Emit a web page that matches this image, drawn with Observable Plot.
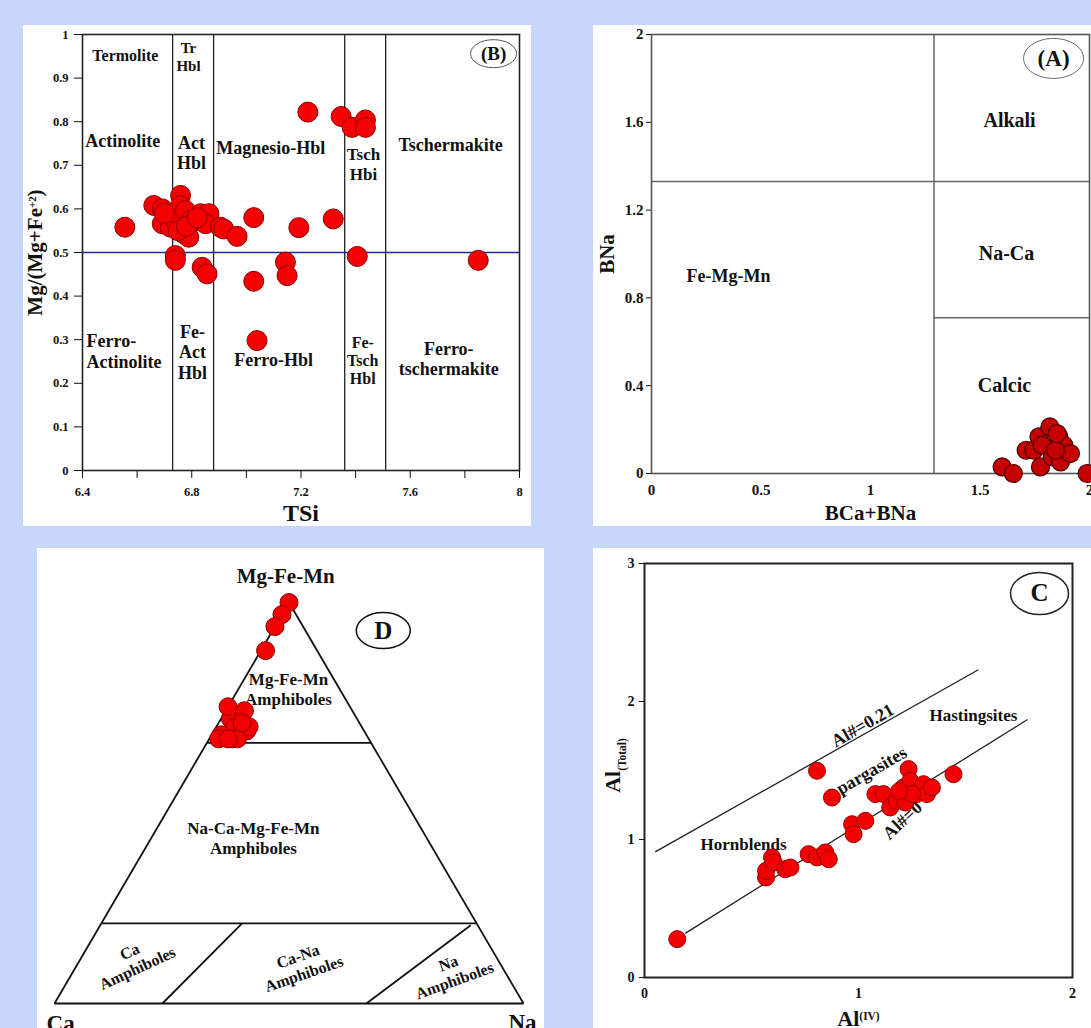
<!DOCTYPE html>
<html>
<head>
<meta charset="utf-8">
<script src="https://cdn.jsdelivr.net/npm/d3@7"></script>
<script src="https://cdn.jsdelivr.net/npm/@observablehq/plot@0.6"></script>
<style>
  html, body { margin: 0; padding: 0; background: #c6d7fb; overflow: hidden; }
  #sheet { position: relative; width: 1091px; height: 1028px; background: #c6d7fb; }
  .panel { position: absolute; background: #ffffff; overflow: hidden; }
  .panel svg { display: block; }
</style>
</head>
<body>
<div id="sheet"></div>
<script>
// ---------- Panel B: TSi vs Mg/(Mg+Fe2+) ----------
const bTSi = [6.555, 6.661, 6.692, 6.692, 6.722, 6.759, 6.759, 6.740, 6.777, 6.795, 6.771, 6.789,
  6.814, 6.832, 6.863, 6.851, 6.905, 6.917, 6.966, 7.027, 7.192, 7.318, 6.740, 6.740, 6.838, 6.856,
  7.027, 7.143, 7.149, 7.039, 7.406, 7.849, 7.225, 7.347, 7.387, 7.436, 7.436, 6.700, 6.750, 6.780, 6.820];
const bMgNumber = [0.558, 0.608, 0.600, 0.566, 0.558, 0.631, 0.608, 0.573, 0.596, 0.573, 0.543, 0.535,
  0.573, 0.589, 0.589, 0.566, 0.558, 0.554, 0.537, 0.580, 0.557, 0.577, 0.493, 0.482, 0.466, 0.451,
  0.434, 0.478, 0.447, 0.298, 0.491, 0.482, 0.822, 0.812, 0.787, 0.804, 0.787, 0.590, 0.550, 0.560, 0.580];
const bFieldBoundsTSi = [6.73, 6.88, 7.36, 7.51];
const bMgDivide = [0.5];
const bTicksX = [6.4, 6.6, 6.8, 7.0, 7.2, 7.4, 7.6, 7.8, 8];
const bTickLabelsX = [6.4, 6.8, 7.2, 7.6, 8];
const bTicksY = [0, 0.1, 0.2, 0.3, 0.4, 0.5, 0.6, 0.7, 0.8, 0.9, 1];

// ---------- Panel A: BCa+BNa vs BNa ----------
const aBCaBNa = [1.601, 1.652, 1.711, 1.746, 1.769, 1.819, 1.784, 1.776, 1.830, 1.860, 1.883, 1.868, 1.913, 1.845, 1.852, 1.989];
const aBNa = [0.030, 0.000, 0.106, 0.106, 0.167, 0.212, 0.129, 0.030, 0.076, 0.167, 0.129, 0.053, 0.091, 0.106, 0.182, 0.000];
const aGroupSplitX = [1.29];
const aAlkaliSplitY = [1.33];
const aCalcicSplitY = [0.71];
const aTicksX = [0, 0.5, 1, 1.5, 2];
const aTicksY = [0, 0.4, 0.8, 1.2, 1.6, 2];

// ---------- Panel C: Al(IV) vs Al(Total) ----------
const cAlIV = [0.153, 0.568, 0.568, 0.596, 0.604, 0.658, 0.682, 0.767, 0.806, 0.845, 0.861, 0.806, 0.876,
  0.970, 0.977, 1.032, 1.079, 1.117, 1.148, 1.179, 1.210, 1.234, 1.242, 1.219, 1.273, 1.304, 1.320, 1.343,
  1.444, 1.250, 1.190];
const cAlTotal = [0.278, 0.725, 0.773, 0.870, 0.833, 0.785, 0.797, 0.894, 0.870, 0.906, 0.857, 1.498, 1.304,
  1.111, 1.039, 1.135, 1.329, 1.329, 1.232, 1.280, 1.377, 1.510, 1.425, 1.268, 1.329, 1.401, 1.329, 1.377,
  1.473, 1.330, 1.350];
const cRefLineNames = ["Al#=0", "Al#=0.21"];
const cRefLineX1 = [0.19, 0.05];
const cRefLineY1 = [0.32, 0.91];
const cRefLineX2 = [1.79, 1.56];
const cRefLineY2 = [1.87, 2.23];
const cTicksX = [0, 1, 2];
const cTicksY = [0, 1, 2, 3];

// ---------- Panel D: Ca – Na – (Mg-Fe-Mn) ternary ----------
const dCa = [0.00, 0.03, 0.06, 0.11, 0.27, 0.23, 0.27, 0.31, 0.29, 0.25, 0.28, 0.24, 0.26, 0.32, 0.25, 0.30];
const dNa = [0.00, 0.00, 0.00, 0.01, 0.02, 0.04, 0.04, 0.02, 0.05, 0.07, 0.06, 0.07, 0.00, 0.02, 0.05, 0.04];
const dMgFeMn = [1.00, 0.97, 0.94, 0.88, 0.71, 0.73, 0.69, 0.67, 0.66, 0.68, 0.66, 0.69, 0.74, 0.66, 0.70, 0.66];
// field boundaries as [Ca, Na, MgFeMn] end members
const dBoundaryFrom = [[1, 0, 0], [0, 1, 0], [0, 0, 1], [0.35, 0, 0.65], [0.8, 0, 0.2], [0.5, 0.3, 0.2], [0.015, 0.79, 0.195]];
const dBoundaryTo = [[0, 1, 0], [0, 0, 1], [1, 0, 0], [0, 0.35, 0.65], [0, 0.8, 0.2], [0.77, 0.23, 0], [0.335, 0.665, 0]];

// ---------- helpers ----------
const serif = "'Liberation Serif','Times New Roman',Times,serif";
const sheet = document.getElementById("sheet");

function mount(svg, left, top, width, height) {
  const div = document.createElement("div");
  div.className = "panel";
  Object.assign(div.style, {left: left + "px", top: top + "px", width: width + "px", height: height + "px"});
  div.appendChild(svg);
  sheet.appendChild(div);
  scripts(svg);
}

// turn "^{..}" and "_{..}" inside text into super/subscript tspans
function scripts(svg) {
  d3.select(svg).selectAll("text").each(function () {
    if (this.querySelector("tspan")) return;
    const s = this.textContent;
    if (!/[\^_]\{/.test(s)) return;
    const parts = s.split(/([\^_]\{[^}]*\})/).filter((p) => p);
    this.textContent = "";
    for (const p of parts) {
      const m = p.match(/^([\^_])\{([^}]*)\}$/);
      const t = d3.select(this).append("tspan");
      if (m) t.text(m[2]).attr("baseline-shift", m[1] === "^" ? "super" : "sub").attr("font-size", "52%");
      else t.text(p);
    }
  });
}

// ellipse outline used for the panel tags
function ellipse(rx, ry) {
  const k = 0.5523;
  return {
    draw(ctx) {
      ctx.moveTo(rx, 0);
      ctx.bezierCurveTo(rx, k * ry, k * rx, ry, 0, ry);
      ctx.bezierCurveTo(-k * rx, ry, -rx, k * ry, -rx, 0);
      ctx.bezierCurveTo(-rx, -k * ry, -k * rx, -ry, 0, -ry);
      ctx.bezierCurveTo(k * rx, -ry, rx, -k * ry, rx, 0);
      ctx.closePath();
    }
  };
}

const label = (txt, x, y, opts = {}) =>
  Plot.text([txt], {x: () => x, y: () => y, fontSize: 18, fontWeight: "bold", fill: "#111", ...opts});

// axis titles placed relative to the frame, centred on their anchor point
const title = (txt, frameAnchor, opts = {}) =>
  Plot.text([txt], {frameAnchor, textAnchor: "middle", lineAnchor: "middle", fontWeight: "bold", fill: "#111", ...opts});

const tag = (txt, x, y, rx, ry, size, stroke, sw) => [
  Plot.dot([txt], {x: () => x, y: () => y, symbol: ellipse(rx, ry), r: 1, fill: "white", stroke, strokeWidth: sw}),
  label(txt, x, y, {fontSize: size})
];

const baseStyle = {fontFamily: serif, fontWeight: "bold", background: "transparent", overflow: "visible", color: "#111"};

// ---------- Panel B ----------
const bPoints = bTSi.map((x, i) => ({x, y: bMgNumber[i]}));
mount(Plot.plot({
  width: 508, height: 501,
  marginLeft: 59, marginRight: 12, marginTop: 9, marginBottom: 56,
  style: baseStyle,
  x: {domain: [6.4, 8]},
  y: {domain: [0, 1]},
  marks: [
    Plot.ruleX(bFieldBoundsTSi, {stroke: "#222", strokeWidth: 1.3}),
    Plot.ruleY(bMgDivide, {stroke: "#1d2c92", strokeWidth: 1.5}),
    Plot.frame({stroke: "#222", strokeWidth: 1.6}),
    Plot.axisY({ticks: bTicksY, tickSize: 8, tickPadding: 6, fontSize: 12.5, label: null, tickFormat: (d) => String(d)}),
    Plot.axisX({ticks: bTicksX, tickSize: 8, tickPadding: 9, fontSize: 12.5, label: null,
      tickFormat: (d) => (bTickLabelsX.includes(d) ? String(d) : "")}),
    title("TSi", "bottom", {dy: 43, fontSize: 24}),
    title("Mg/(Mg+Fe^{+2})", "left", {dx: -47, dy: 0, rotate: -90, fontSize: 21}),
    label("Termolite", 6.557, 0.952, {fontSize: 16}),
    label("Tr\nHbl", 6.788, 0.950, {fontSize: 15, lineHeight: 1.2}),
    label("Actinolite", 6.547, 0.755),
    label("Act\nHbl", 6.799, 0.729, {lineHeight: 1.12}),
    label("Magnesio-Hbl", 7.089, 0.739),
    label("Tsch\nHbi", 7.429, 0.704, {fontSize: 17, lineHeight: 1.18}),
    label("Tschermakite", 7.748, 0.745),
    label("Ferro-\nActinolite", 6.415, 0.274, {textAnchor: "start", lineHeight: 1.17}),
    label("Fe-\nAct\nHbl", 6.803, 0.273, {lineHeight: 1.14}),
    label("Ferro-Hbl", 7.100, 0.252),
    label("Fe-\nTsch\nHbl", 7.426, 0.252, {fontSize: 16, lineHeight: 1.13}),
    label("Ferro-\ntschermakite", 7.741, 0.257, {lineHeight: 1.12}),
    Plot.dot(bPoints, {x: "x", y: "y", r: 10, fill: "#f40000", stroke: "#8e0000", strokeWidth: 1}),
    ...tag("(B)", 7.905, 0.956, 23, 14, 19, "#555", 1)
  ]
}), 23, 25, 508, 501);

// ---------- Panel A ----------
const aPoints = aBCaBNa.map((x, i) => ({x, y: aBNa[i]}));
mount(Plot.plot({
  width: 498, height: 501,
  marginLeft: 58, marginRight: 2, marginTop: 9, marginBottom: 53,
  style: baseStyle,
  x: {domain: [0, 2]},
  y: {domain: [0, 2]},
  marks: [
    Plot.ruleX(aGroupSplitX, {stroke: "#666", strokeWidth: 1.5}),
    Plot.ruleY(aAlkaliSplitY, {stroke: "#666", strokeWidth: 1.5}),
    Plot.ruleY(aCalcicSplitY, {x1: aGroupSplitX[0], x2: 2, stroke: "#666", strokeWidth: 1.5}),
    Plot.frame({stroke: "#555", strokeWidth: 1.6}),
    Plot.axisY({ticks: aTicksY, tickSize: 5, tickPadding: 3, fontSize: 15, label: null, tickFormat: (d) => String(d)}),
    Plot.axisX({ticks: aTicksX, tickSize: 0, tickPadding: 11, fontSize: 15, label: null, tickFormat: (d) => String(d)}),
    title("BCa+BNa", "bottom", {dy: 40, fontSize: 21}),
    title("BNa", "left", {dx: -44, rotate: -90, fontSize: 21}),
    label("Alkali", 1.635, 1.608, {fontSize: 20}),
    label("Na-Ca", 1.621, 1.002, {fontSize: 20}),
    label("Calcic", 1.612, 0.401, {fontSize: 20}),
    label("Fe-Mg-Mn", 0.352, 0.897),
    Plot.dot(aPoints, {x: "x", y: "y", r: 9, fill: "#c40000", stroke: "#4a0000", strokeWidth: 1.2}),
    ...tag("(A)", 1.836, 1.891, 30, 20, 23, "#666", 1)
  ]
}), 593, 25, 498, 501);

// ---------- Panel D (ternary) ----------
const ternX = (ca, na, m) => (na + m / 2) / (ca + na + m);
const ternY = (ca, na, m) => m / (ca + na + m);
const dPoints = dCa.map((ca, i) => ({x: ternX(ca, dNa[i], dMgFeMn[i]), y: ternY(ca, dNa[i], dMgFeMn[i])}));
const dSegments = dBoundaryFrom.map((a, i) => {
  const b = dBoundaryTo[i];
  return {x1: ternX(...a), y1: ternY(...a), x2: ternX(...b), y2: ternY(...b)};
});
mount(Plot.plot({
  width: 507, height: 480,
  marginLeft: 17, marginRight: 21, marginTop: 54, marginBottom: 25,
  style: baseStyle,
  x: {domain: [0, 1], axis: null},
  y: {domain: [0, 1], axis: null},
  marks: [
    Plot.link(dSegments, {x1: "x1", y1: "y1", x2: "x2", y2: "y2", stroke: "#111", strokeWidth: 1.8}),
    label("Mg-Fe-Mn", 0.493, 1.065, {fontSize: 21}),
    label("Mg-Fe-Mn\nAmphiboles", 0.499, 0.786, {fontSize: 17, lineHeight: 1.18}),
    label("Na-Ca-Mg-Fe-Mn\nAmphiboles", 0.424, 0.414, {fontSize: 17, lineHeight: 1.18}),
    label("Ca\nAmphiboles", 0.168, 0.110, {fontSize: 16, rotate: -25, lineHeight: 1.15}),
    label("Ca-Na\nAmphiboles", 0.525, 0.097, {fontSize: 16, rotate: -19, lineHeight: 1.15}),
    label("Na\nAmphiboles", 0.846, 0.080, {fontSize: 16, rotate: -20, lineHeight: 1.15}),
    label("Ca", 0.013, -0.05, {fontSize: 23}),
    label("Na", 0.998, -0.047, {fontSize: 23}),
    Plot.dot(dPoints, {x: "x", y: "y", r: 9, fill: "#f20000", stroke: "#8e0000", strokeWidth: 1}),
    ...tag("D", 0.701, 0.930, 27, 18, 25, "#111", 1.5)
  ]
}), 37, 548, 507, 480);

// ---------- Panel C ----------
const cPoints = cAlIV.map((x, i) => ({x, y: cAlTotal[i]}));
const cLines = cRefLineNames.map((name, i) => ({name, x1: cRefLineX1[i], y1: cRefLineY1[i], x2: cRefLineX2[i], y2: cRefLineY2[i]}));
mount(Plot.plot({
  width: 498, height: 480,
  marginLeft: 51, marginRight: 19, marginTop: 15, marginBottom: 51,
  style: baseStyle,
  x: {domain: [0, 2]},
  y: {domain: [0, 3]},
  marks: [
    Plot.link(cLines, {x1: "x1", y1: "y1", x2: "x2", y2: "y2", stroke: "#222", strokeWidth: 1.3}),
    Plot.frame({stroke: "#222", strokeWidth: 2}),
    Plot.axisY({ticks: cTicksY, tickSize: 5, tickPadding: 5, fontSize: 14, label: null, tickFormat: (d) => String(d)}),
    Plot.axisX({ticks: cTicksX, tickSize: 0, tickPadding: 11, fontSize: 14, label: null, tickFormat: (d) => String(d)}),
    title("Al^{(IV)}", "bottom", {dy: 41, fontSize: 22}),
    title("Al_{(Total)}", "left", {dx: -32, dy: -5, rotate: -90, fontSize: 22}),
    label("Hornblends", 0.463, 0.964, {fontSize: 17}),
    label("Hastingsites", 1.537, 1.899, {fontSize: 17}),
    label("pargasites", 1.061, 1.50, {fontSize: 18, rotate: -30}),
    label("Al#=0.21", 1.019, 1.826, {fontSize: 18, rotate: -30}),
    label("Al#=0", 1.206, 1.138, {fontSize: 18, rotate: -43}),
    Plot.dot(cPoints, {x: "x", y: "y", r: 8.5, fill: "#f00000", stroke: "#9a0000", strokeWidth: 1}),
    ...tag("C", 1.846, 2.783, 29, 21, 25, "#222", 1.5)
  ]
}), 593, 548, 498, 480);
</script>
</body>
</html>
